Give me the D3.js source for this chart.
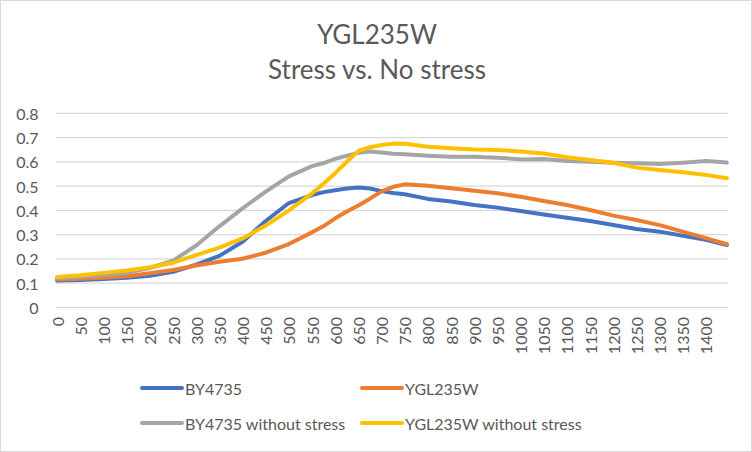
<!DOCTYPE html>
<html>
<head>
<meta charset="utf-8">
<script src="https://cdn.jsdelivr.net/npm/d3@7"></script>
<style>
  html, body { margin: 0; padding: 0; background: #fff; }
  svg { display: block; }
  text { font-family: Lato, "Open Sans", sans-serif; fill: #595959; }
</style>
</head>
<body>
<svg id="chart" width="752" height="452"></svg>
<script>
// ---- data ----
const titleLines = ["YGL235W", "Stress vs. No stress"];
const seriesNames = ["BY4735", "YGL235W", "BY4735 without stress", "YGL235W without stress"];
const seriesColors = ["#4472C4", "#ED7D31", "#A5A5A5", "#FFC000"];
const yTicks = [0, 0.1, 0.2, 0.3, 0.4, 0.5, 0.6, 0.7, 0.8];
const xCategories = d3.range(0, 1450, 5);          // category axis 0..1445 (5-min steps)
const xTickLabels = d3.range(0, 1401, 50);         // labelled every 50
const times = [0, 50, 100, 150, 200, 250, 300, 350, 400, 450, 500, 550, 575, 600, 625, 650, 675, 700, 725, 750,
               800, 850, 900, 950, 1000, 1050, 1100, 1150, 1200, 1250, 1300, 1350, 1400, 1445];
const by4735 = [0.110, 0.113, 0.117, 0.122, 0.130, 0.146, 0.176, 0.212, 0.270, 0.356, 0.430, 0.463, 0.475, 0.483, 0.490, 0.494, 0.490, 0.479, 0.471, 0.466,
                0.447, 0.436, 0.422, 0.411, 0.397, 0.383, 0.369, 0.356, 0.339, 0.323, 0.312, 0.295, 0.278, 0.257];
const ygl235w = [0.115, 0.118, 0.122, 0.128, 0.140, 0.154, 0.172, 0.188, 0.200, 0.225, 0.261, 0.309, 0.335, 0.367, 0.395, 0.420, 0.448, 0.478, 0.497, 0.507,
                 0.501, 0.491, 0.481, 0.470, 0.456, 0.438, 0.422, 0.401, 0.378, 0.360, 0.339, 0.312, 0.285, 0.260];
const by4735NoStress = [0.120, 0.125, 0.132, 0.142, 0.162, 0.192, 0.255, 0.334, 0.408, 0.477, 0.540, 0.582, 0.595, 0.612, 0.625, 0.637, 0.642, 0.638, 0.633, 0.631,
                        0.625, 0.621, 0.621, 0.617, 0.610, 0.612, 0.603, 0.600, 0.596, 0.594, 0.591, 0.596, 0.603, 0.597];
const ygl235wNoStress = [0.125, 0.132, 0.142, 0.152, 0.165, 0.184, 0.215, 0.246, 0.284, 0.337, 0.400, 0.470, 0.510, 0.553, 0.600, 0.645, 0.660, 0.669, 0.675, 0.674,
                         0.662, 0.656, 0.651, 0.649, 0.642, 0.634, 0.619, 0.607, 0.596, 0.576, 0.566, 0.557, 0.546, 0.532];
const seriesValues = [by4735, ygl235w, by4735NoStress, ygl235wNoStress];

// ---- layout ----
const W = 752, H = 452;
const plot = { left: 56, right: 728, top: 113.3, bottom: 307.3 };
const svg = d3.select("#chart");

svg.append("rect").attr("x", 0.5).attr("y", 0.5).attr("width", W - 1).attr("height", H - 1)
  .attr("fill", "#fff").attr("stroke", "#d9d9d9").attr("stroke-width", 1);

const x = d3.scaleBand().domain(xCategories).range([plot.left, plot.right]).padding(0);
const y = d3.scaleLinear().domain([0, 0.8]).range([plot.bottom, plot.top]);
const xc = t => x(t) + x.bandwidth() / 2;

// gridlines
svg.append("g").selectAll("line").data(yTicks).join("line")
  .attr("x1", plot.left).attr("x2", plot.right)
  .attr("y1", d => y(d)).attr("y2", d => y(d))
  .attr("stroke", "#d9d9d9").attr("stroke-width", 1.3);

// y labels
svg.append("g").selectAll("text").data(yTicks).join("text")
  .attr("x", 38.5).attr("y", d => y(d))
  .attr("text-anchor", "end").attr("dominant-baseline", "central")
  .style("font-size", "16px")
  .text(d => d3.format("")(d));

// x labels (rotated)
svg.append("g").selectAll("text").data(xTickLabels).join("text")
  .attr("transform", d => `translate(${xc(d)},317) rotate(-90)`)
  .attr("text-anchor", "end").attr("dominant-baseline", "central")
  .style("font-size", "16px")
  .text(d => d);

// lines
const line = d3.line().x((d, i) => xc(times[i])).y(d => y(d));
svg.append("g").selectAll("path").data(seriesValues).join("path")
  .attr("d", d => line(d))
  .attr("fill", "none")
  .attr("stroke", (d, i) => seriesColors[i])
  .attr("stroke-width", 4)
  .attr("stroke-linejoin", "round").attr("stroke-linecap", "round");

// title
svg.append("text").attr("x", 377).attr("y", 44.3).attr("text-anchor", "middle")
  .style("font-size", "26px").text(titleLines[0]);
svg.append("text").attr("x", 377).attr("y", 79).attr("text-anchor", "middle")
  .style("font-size", "26px").text(titleLines[1]);

// legend
const legendPos = [[142, 388], [362, 388], [142, 423], [362, 423]];
const lg = svg.append("g").selectAll("g").data(seriesNames).join("g")
  .attr("transform", (d, i) => `translate(${legendPos[i][0]},${legendPos[i][1]})`);
lg.append("line").attr("x1", 0).attr("x2", 40).attr("y1", 0).attr("y2", 0)
  .attr("stroke", (d, i) => seriesColors[i]).attr("stroke-width", 4).attr("stroke-linecap", "round");
lg.append("text").attr("x", 43).attr("y", 0).attr("dominant-baseline", "central")
  .style("font-size", "16px").text(d => d);
</script>
</body>
</html>
